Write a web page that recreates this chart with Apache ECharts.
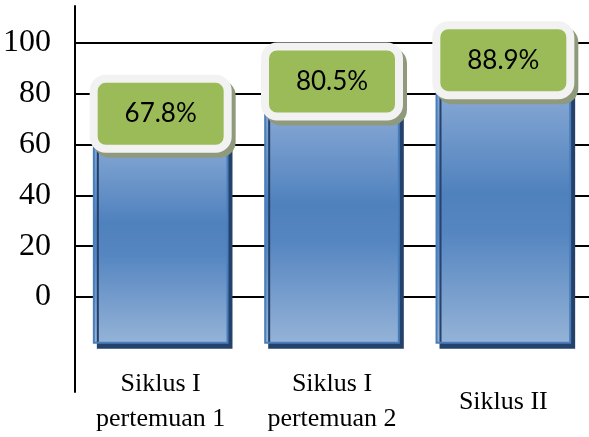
<!DOCTYPE html>
<html>
<head>
<meta charset="utf-8">
<script src="https://cdn.jsdelivr.net/npm/echarts@6/dist/echarts.min.js"></script>
<style>
html, body { margin: 0; padding: 0; background: #fff; }
#chart { width: 589px; height: 437px; }
</style>
</head>
<body>
<div id="chart"></div>
<script>
var categories = ['Siklus I\npertemuan 1', 'Siklus I\npertemuan 2', 'Siklus II'];
var values = [67.8, 80.5, 88.9];
var yMin = 0;
var yMax = 100;
var yStep = 20;
// bars in the picture run down past the 0 line
var barFloor = -18;

var myChart;

function renderBar(params, api) {
    var i = api.value(0);
    var v = api.value(1);
    var top = api.coord([i, v]);
    var bottom = api.coord([i, barFloor]);
    var w = api.size([1, 0])[0] * 0.78;
    var cx = top[0];
    var boxY = top[1] - 46;
    return {
        type: 'group',
        children: [
            {
                type: 'rect',
                shape: { x: cx - w / 2, y: top[1], width: w, height: bottom[1] - top[1] },
                style: {
                    fill: {
                        type: 'linear', x: 0, y: 0, x2: 0, y2: 1,
                        colorStops: [
                            { offset: 0, color: '#93b1da' },
                            { offset: 0.45, color: '#4f81bd' },
                            { offset: 0.6, color: '#5686c1' },
                            { offset: 1, color: '#95b3d7' }
                        ]
                    },
                    stroke: '#4a7ebb',
                    lineWidth: 2,
                    shadowColor: '#24426b',
                    shadowOffsetX: 4,
                    shadowOffsetY: 5,
                    shadowBlur: 0
                }
            },
            {
                // label shadow
                type: 'rect',
                shape: { x: cx - 71 + 4, y: boxY - 4 + 5, width: 142, height: 78, r: 16 },
                style: { fill: '#8f9a7c' }
            },
            {
                type: 'rect',
                shape: { x: cx - 67, y: boxY, width: 134, height: 70, r: 12 },
                style: {
                    fill: '#9bbb59',
                    stroke: '#f2f2f2',
                    lineWidth: 8
                },
                textContent: {
                    style: {
                        text: v.toFixed(1) + '%',
                        fontSize: 26,
                        fontFamily: 'Lato',
                        fill: '#000'
                    }
                },
                textConfig: { position: 'inside' }
            }
        ]
    };
}

function picture(obj) {
    var option = {
        animation: false,
        grid: [
            { left: 75, right: 0, top: 43, bottom: 140 },
            { left: 75, right: 0, top: 6, bottom: 45 }
        ],
        xAxis: [
            {
                type: 'category',
                gridIndex: 0,
                data: categories,
                axisLine: { show: false },
                axisTick: { show: false },
                axisLabel: { show: false }
            },
            {
                type: 'category',
                gridIndex: 1,
                data: categories,
                axisLine: { show: false },
                axisTick: { show: false },
                axisLabel: {
                    interval: 0,
                    margin: 10,
                    verticalAlign: 'middle',
                    fontFamily: 'Liberation Serif',
                    fontSize: 26,
                    lineHeight: 35,
                    color: '#000'
                }
            }
        ],
        yAxis: [
            {
                type: 'value',
                gridIndex: 0,
                min: yMin,
                max: yMax,
                interval: yStep,
                axisLine: { show: false },
                axisTick: { show: false },
                axisLabel: {
                    margin: 24,
                    fontFamily: 'Liberation Serif',
                    fontSize: 32,
                    color: '#000'
                },
                splitLine: { lineStyle: { color: '#000', width: 2 } }
            },
            {
                type: 'value',
                gridIndex: 1,
                min: 0,
                max: 1,
                axisLine: { show: true, lineStyle: { color: '#000', width: 2 } },
                axisTick: { show: false },
                axisLabel: { show: false },
                splitLine: { show: false }
            }
        ],
        series: [
            {
                type: 'custom',
                xAxisIndex: 0,
                yAxisIndex: 0,
                clip: false,
                renderItem: renderBar,
                data: values.map(function (v, i) { return [i, v]; })
            }
        ]
    };
    obj.setOption(option);
    window.onresize = function () {
        obj.resize();
    };
}

myChart = echarts.init(document.getElementById('chart'));
picture(myChart);
</script>
</body>
</html>
